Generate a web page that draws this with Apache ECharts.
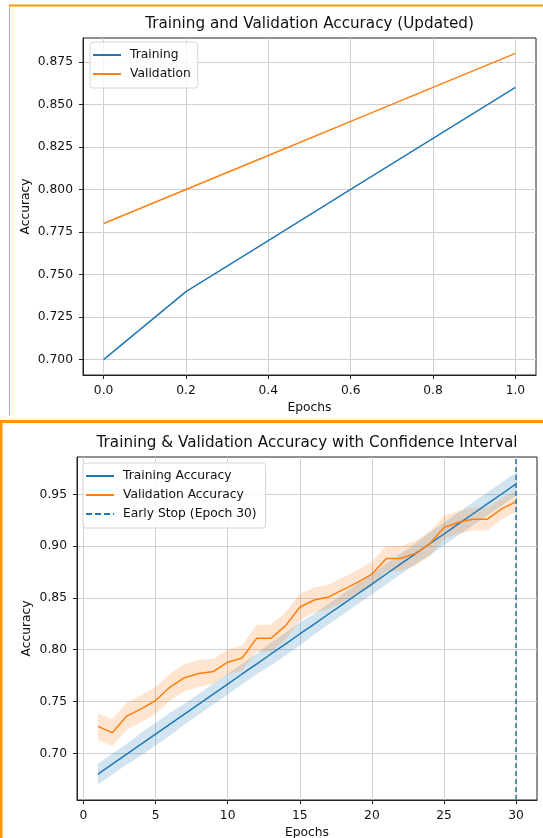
<!DOCTYPE html>
<html>
<head>
<meta charset="utf-8">
<script src="https://cdn.jsdelivr.net/npm/echarts@6/dist/echarts.min.js"></script>
<style>
  html, body { margin: 0; padding: 0; background: #fff; }
  #chart { width: 543px; height: 838px; }
</style>
</head>
<body>
<div id="chart"></div>
<script>
// ---- Upper panel: accuracy over fractional epochs ----
const stepX = [0.0, 0.2, 0.4, 0.6, 0.8, 1.0];
const trainAcc = [0.70, 0.74, 0.77, 0.80, 0.83, 0.86];
const valAcc = [0.78, 0.80, 0.82, 0.84, 0.86, 0.88];
const stepTicks = [0.0, 0.2, 0.4, 0.6, 0.8, 1.0];
const accTicksTop = [0.700, 0.725, 0.750, 0.775, 0.800, 0.825, 0.850, 0.875];

// ---- Lower panel: accuracy per epoch with confidence bands ----
const epochs = [1, 2, 3, 4, 5, 6, 7, 8, 9, 10, 11, 12, 13, 14, 15,
                16, 17, 18, 19, 20, 21, 22, 23, 24, 25, 26, 27, 28, 29, 30];
const trainAccEp = [0.6800, 0.6897, 0.6993, 0.7090, 0.7186, 0.7283, 0.7379, 0.7476, 0.7572, 0.7669,
                    0.7766, 0.7862, 0.7959, 0.8055, 0.8152, 0.8248, 0.8345, 0.8441, 0.8538, 0.8634,
                    0.8731, 0.8828, 0.8924, 0.9021, 0.9117, 0.9214, 0.9310, 0.9407, 0.9503, 0.9600];
const trainSpread = [0.010, 0.010, 0.010, 0.011, 0.011, 0.011, 0.010, 0.010, 0.010, 0.010,
                     0.010, 0.010, 0.011, 0.011, 0.011, 0.010, 0.010, 0.010, 0.010, 0.010,
                     0.010, 0.010, 0.010, 0.011, 0.011, 0.011, 0.011, 0.011, 0.011, 0.011];
const valAccEp = [0.726, 0.720, 0.736, 0.743, 0.751, 0.764, 0.773, 0.777, 0.779, 0.788,
                  0.792, 0.811, 0.811, 0.823, 0.841, 0.848, 0.851, 0.858, 0.865, 0.873,
                  0.888, 0.888, 0.893, 0.902, 0.918, 0.923, 0.926, 0.926, 0.936, 0.943];
const valSpread = [0.013, 0.013, 0.013, 0.013, 0.013, 0.013, 0.013, 0.013, 0.012, 0.012,
                   0.012, 0.013, 0.013, 0.013, 0.013, 0.012, 0.012, 0.012, 0.012, 0.012,
                   0.012, 0.012, 0.012, 0.012, 0.011, 0.011, 0.011, 0.011, 0.010, 0.010];
const earlyStopEpoch = 30;
const epochTicks = [0, 5, 10, 15, 20, 25, 30];
const accTicksBottom = [0.70, 0.75, 0.80, 0.85, 0.90, 0.95];

const BLUE = '#1f77b4';
const ORANGE = '#ff7f0e';
const FONT = 'DejaVu Sans';
const INK = '#111';
const GRIDLINE = '#d0d0d0';
const SPINE = '#222';
const LABEL_SIZE = 12.3;
const TITLE_SIZE = 15.2;

function pairs(xs, ys) { return xs.map((x, i) => [x, ys[i]]); }

function valueAxis(gridIndex, min, max, ticks, digits, name, nameGap) {
  return {
    type: 'value', gridIndex, min, max,
    name, nameLocation: 'middle', nameGap, nameMoveOverlap: false,
    nameTextStyle: { fontFamily: FONT, fontSize: LABEL_SIZE, color: INK },
    axisLine: { show: true, onZero: false, lineStyle: { color: SPINE, width: 1 } },
    axisTick: { show: true, inside: false, length: 4, customValues: ticks,
                lineStyle: { color: SPINE, width: 1 } },
    axisLabel: { customValues: ticks, margin: 10, fontFamily: FONT, fontSize: LABEL_SIZE, color: INK,
                 formatter: v => Number(v).toFixed(digits) },
    splitLine: { show: true, lineStyle: { color: GRIDLINE, width: 1 } }
  };
}

// shaded band between mean - spread and mean + spread
function bandSeries(xi, yi, xs, mean, spread, color) {
  return {
    type: 'custom', xAxisIndex: xi, yAxisIndex: yi, z: 1, silent: true,
    data: [[xs[0], mean[0]]],
    renderItem(params, api) {
      const upper = xs.map((x, i) => api.coord([x, mean[i] + spread[i]]));
      const lower = xs.map((x, i) => api.coord([x, mean[i] - spread[i]])).reverse();
      return { type: 'polygon', shape: { points: upper.concat(lower) },
               style: { fill: color, opacity: 0.2 } };
    }
  };
}

const legendCommon = {
  orient: 'vertical',
  itemWidth: 28, itemHeight: 2, itemGap: 7,
  backgroundColor: 'rgba(255,255,255,0.8)',
  borderColor: '#d6d6d6', borderWidth: 1, borderRadius: 3,
  textStyle: { fontFamily: FONT, fontSize: LABEL_SIZE, color: INK, lineHeight: 12, padding: [0, 0, 0, 4] }
};
const solidIcon = 'path://M0,0H28V2H0Z';
const dashIcon = 'path://M0,0H6V2H0Z M9,0H15V2H9Z M18,0H24V2H18Z M27,0H28V2H27Z';

const chart = echarts.init(document.getElementById('chart'), null, { renderer: 'canvas' });
chart.setOption({
  backgroundColor: '#fff',
  animation: false,
  title: [
    { text: 'Training and Validation Accuracy (Updated)', left: 309.5, top: 17, textAlign: 'center', padding: 0,
      textStyle: { fontFamily: FONT, fontSize: TITLE_SIZE, fontWeight: 'normal', color: INK } },
    { text: 'Training & Validation Accuracy with Confidence Interval', left: 307, top: 436, textAlign: 'center', padding: 0,
      textStyle: { fontFamily: FONT, fontSize: TITLE_SIZE, fontWeight: 'normal', color: INK } }
  ],
  grid: [
    { left: 83, top: 38, right: 7, height: 337, outerBoundsMode: 'none',
      show: true, borderColor: SPINE, borderWidth: 1, backgroundColor: 'transparent' },
    { left: 77, top: 457, right: 6, height: 343, outerBoundsMode: 'none',
      show: true, borderColor: SPINE, borderWidth: 1, backgroundColor: 'transparent' }
  ],
  xAxis: [
    valueAxis(0, -0.05, 1.05, stepTicks, 1, 'Epochs', 27),
    valueAxis(1, -0.45, 31.45, epochTicks, 0, 'Epochs', 27)
  ],
  yAxis: [
    valueAxis(0, 0.691, 0.889, accTicksTop, 3, 'Accuracy', 51),
    valueAxis(1, 0.655, 0.986, accTicksBottom, 2, 'Accuracy', 44)
  ],
  legend: [
    Object.assign({}, legendCommon, {
      left: 90, top: 42, padding: [7, 7, 8, 3],
      data: [{ name: 'Training', icon: solidIcon }, { name: 'Validation', icon: solidIcon }]
    }),
    Object.assign({}, legendCommon, {
      left: 83, top: 463, padding: [7, 9, 8, 3],
      data: [{ name: 'Training Accuracy', icon: solidIcon },
             { name: 'Validation Accuracy', icon: solidIcon },
             { name: 'Early Stop (Epoch 30)', icon: dashIcon }]
    })
  ],
  series: [
    { name: 'Training', type: 'line', xAxisIndex: 0, yAxisIndex: 0, data: pairs(stepX, trainAcc),
      showSymbol: false, symbol: 'none', color: BLUE, lineStyle: { width: 1.5, color: BLUE }, z: 3 },
    { name: 'Validation', type: 'line', xAxisIndex: 0, yAxisIndex: 0, data: pairs(stepX, valAcc),
      showSymbol: false, symbol: 'none', color: ORANGE, lineStyle: { width: 1.5, color: ORANGE }, z: 3 },

    bandSeries(1, 1, epochs, trainAccEp, trainSpread, BLUE),
    bandSeries(1, 1, epochs, valAccEp, valSpread, ORANGE),
    { name: 'Training Accuracy', type: 'line', xAxisIndex: 1, yAxisIndex: 1, data: pairs(epochs, trainAccEp),
      showSymbol: false, symbol: 'none', color: BLUE, lineStyle: { width: 1.5, color: BLUE }, z: 3 },
    { name: 'Validation Accuracy', type: 'line', xAxisIndex: 1, yAxisIndex: 1, data: pairs(epochs, valAccEp),
      showSymbol: false, symbol: 'none', color: ORANGE, lineStyle: { width: 1.5, color: ORANGE }, z: 3 },
    { name: 'Early Stop (Epoch 30)', type: 'line', xAxisIndex: 1, yAxisIndex: 1, data: [],
      color: BLUE, lineStyle: { color: BLUE, type: [5, 3] }, z: 4,
      markLine: { silent: true, symbol: 'none', label: { show: false },
                  lineStyle: { color: BLUE, width: 1.5, type: [5, 3] },
                  data: [{ xAxis: earlyStopEpoch }] } }
  ],
  graphic: [
    { type: 'line', shape: { x1: 9, y1: 5.5, x2: 543, y2: 5.5 }, style: { stroke: '#ff9900', lineWidth: 2 } },
    { type: 'line', shape: { x1: 9.5, y1: 5, x2: 9.5, y2: 415 }, style: { stroke: '#f5a53a', lineWidth: 1 } },
    { type: 'rect', shape: { x: 0, y: 420, width: 543, height: 3 }, style: { fill: '#ff9500' } },
    { type: 'rect', shape: { x: 0, y: 421, width: 2.5, height: 417 }, style: { fill: '#ff9500' } }
  ]
});
</script>
</body>
</html>
